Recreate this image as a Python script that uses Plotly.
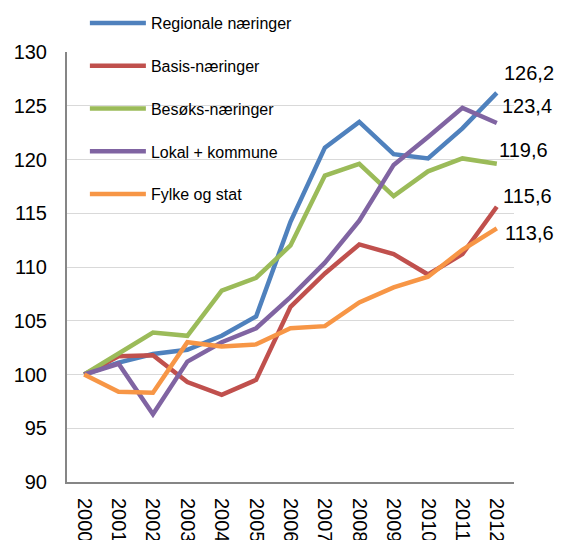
import plotly.graph_objects as go

years = [str(y) for y in range(2000, 2013)]

series_names = ["Regionale næringer", "Basis-næringer", "Besøks-næringer",
                "Lokal + kommune", "Fylke og stat"]
regionale = [100, 101.1, 101.9, 102.3, 103.6, 105.4, 114.2, 121.1, 123.5, 120.5, 120.1, 122.9, 126.2]
basis = [100, 101.7, 101.8, 99.3, 98.1, 99.5, 106.3, 109.4, 112.1, 111.2, 109.3, 111.2, 115.6]
besoks = [100, 102.0, 103.9, 103.6, 107.8, 109.0, 112.0, 118.5, 119.6, 116.6, 118.9, 120.1, 119.6]
lokal = [100, 101.0, 96.3, 101.2, 103.0, 104.3, 107.2, 110.4, 114.3, 119.5, 122.1, 124.8, 123.4]
fylke = [100, 98.4, 98.3, 103.0, 102.6, 102.8, 104.3, 104.5, 106.7, 108.1, 109.1, 111.6, 113.6]

all_series = [regionale, basis, besoks, lokal, fylke]
colors = ["#4F81BD", "#C0504D", "#9BBB59", "#8064A2", "#F79646"]

# end-label pixel offsets (style only)
label_xshift = [6, 5, 1, 4, 7]
label_yshift = [20, 11, 14, 17, -5]

FONT = "Liberation Sans, Arial, sans-serif"

fig = go.Figure()
for i, (name, vals) in enumerate(zip(series_names, all_series)):
    fig.add_trace(go.Scatter(
        x=years, y=vals, name=name, mode="lines",
        line=dict(color=colors[i], width=4.5),
        legendgroup=f"g{i}",
    ))

last_idx = len(years) - 1
for i, vals in enumerate(all_series):
    fig.add_annotation(
        x=last_idx, y=vals[-1], xref="x", yref="y",
        text=f"{vals[-1]:.1f}".replace(".", ","),
        showarrow=False, xanchor="left", yanchor="middle",
        xshift=label_xshift[i], yshift=label_yshift[i],
        borderpad=0,
        font=dict(family=FONT, size=20, color="#000000"),
    )

# page body adds an 8px margin, so the figure is sized to fill the rest
fig.update_layout(
    width=555, height=532,
    margin=dict(l=59, r=49, t=44, b=58, autoexpand=False),
    paper_bgcolor="white", plot_bgcolor="white",
    font=dict(family=FONT, size=20, color="#000000"),
    showlegend=True,
    legend=dict(
        x=0.040, y=1.107, xanchor="left", yanchor="top",
        bgcolor="rgba(0,0,0,0)",
        font=dict(family=FONT, size=16, color="#000000"),
        tracegroupgap=19, itemwidth=56,
    ),
    xaxis=dict(
        type="category", range=[-0.5, 12.5],
        showline=True, linecolor="#868686", linewidth=2,
        showgrid=False, ticks="", tickangle=90,
        tickfont=dict(family=FONT, size=20),
        automargin=False, ticklabelstandoff=10,
    ),
    yaxis=dict(
        range=[90, 130], dtick=5, tick0=90,
        showline=True, linecolor="#868686", linewidth=2,
        showgrid=True, gridcolor="#D9D9D9", gridwidth=1,
        ticks="", tickfont=dict(family=FONT, size=20),
        automargin=False, ticklabelstandoff=14, zeroline=False,
    ),
)

fig.write_html("out.html")
